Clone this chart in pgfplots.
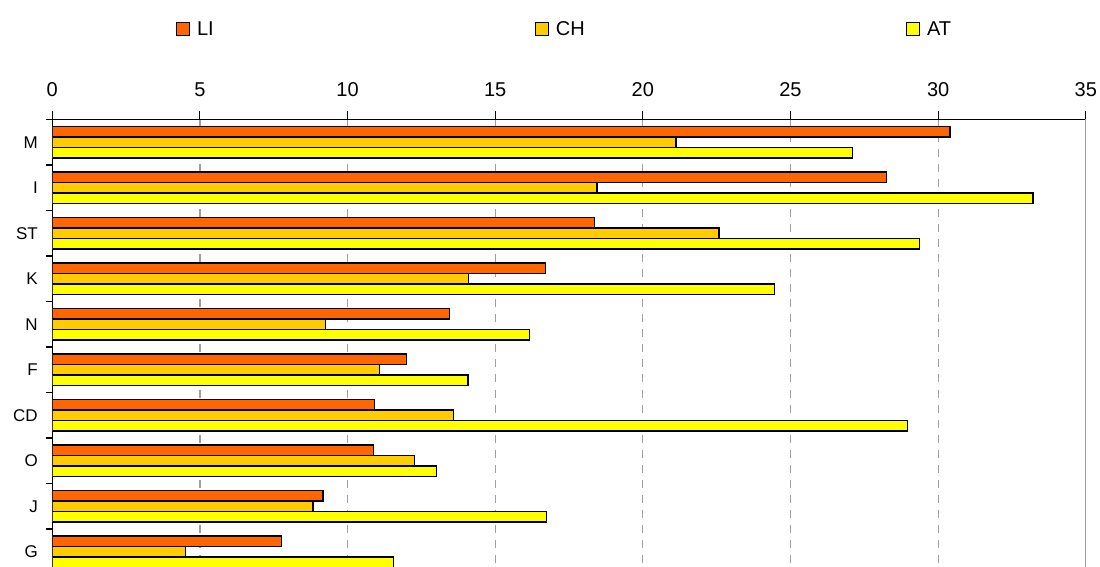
\documentclass[border=0pt]{standalone}
\usepackage{pgfplots}
\pgfplotsset{compat=1.18}
\usepackage{fontspec}
\setmainfont{Liberation Sans}

\definecolor{liC}{HTML}{FF6600}
\definecolor{chC}{HTML}{FFCC00}
\definecolor{atC}{HTML}{FFFF00}

% y = category index, M at the top
\pgfplotstableread{
y  LI     CH     AT
0  30.40  21.12  27.09
1  28.25  18.45  33.21
2  18.35  22.58  29.37
3  16.70  14.10  24.47
4  13.45   9.25  16.17
5  12.00  11.07  14.08
6  10.92  13.60  28.97
7  10.87  12.28  13.00
8   9.17   8.83  16.74
9   7.77   4.50  11.55
}\datatable

\begin{document}
\begin{tikzpicture}[font=\fontsize{20}{24}\selectfont]
\path[use as bounding box] (-52.3pt,7.5pt) rectangle (1047.7pt,574.5pt);
\clip (-52.3pt,7.5pt) rectangle (1047.7pt,574.5pt);
\begin{axis}[
  at={(0,0)}, anchor=south west,
  scale only axis, width=1033.5pt, height=455pt,
  xmin=0, xmax=35, ymin=-0.5, ymax=9.5, y dir=reverse,
  axis x line*=top, axis y line*=left,
  axis line style={black, line width=1.3pt},
  xbar, bar width=10.5pt,
  xtick={0,5,...,35},
  ytick={0,...,9},
  yticklabels={M,I,ST,K,N,F,CD,O,J,G},
  minor ytick={-0.5,0.5,...,9.5},
  tick align=outside,
  major tick length=8pt, minor tick length=6pt,
  major y tick style={draw=none},
  tick style={black, line width=1.1pt},
  /pgf/number format/assume math mode=true,
  xticklabel style={font=\fontsize{20}{24}\selectfont, yshift=11pt},
  yticklabel style={font=\fontsize{17}{20}\selectfont, xshift=-3pt},
  xmajorgrids,
  major x grid style={gray!75, dash pattern=on 8pt off 7pt, line width=1.2pt},
  legend columns=3,
  legend style={at={(0.4956,1.1989)}, anchor=center, draw=none,
    font=\fontsize{20}{24}\selectfont,
    /tikz/every even column/.append style={column sep=319pt}},
  legend image code/.code={\draw[#1, line width=1.2pt] (0pt,-6.5pt) rectangle (13pt,6.5pt);
    \path (18pt,0pt);},
]
\addplot[fill=liC, draw=black, line width=1.2pt, bar shift=10.5pt] table[x=LI, y=y] {\datatable};
\addplot[fill=chC, draw=black, line width=1.2pt, bar shift=0pt] table[x=CH, y=y] {\datatable};
\addplot[fill=atC, draw=black, line width=1.2pt, bar shift=-10.5pt] table[x=AT, y=y] {\datatable};
\legend{LI,CH,AT}
\draw[gray!80, line width=1.5pt] (rel axis cs:1,0) -- (rel axis cs:1,1);
\end{axis}
\end{tikzpicture}
\end{document}
